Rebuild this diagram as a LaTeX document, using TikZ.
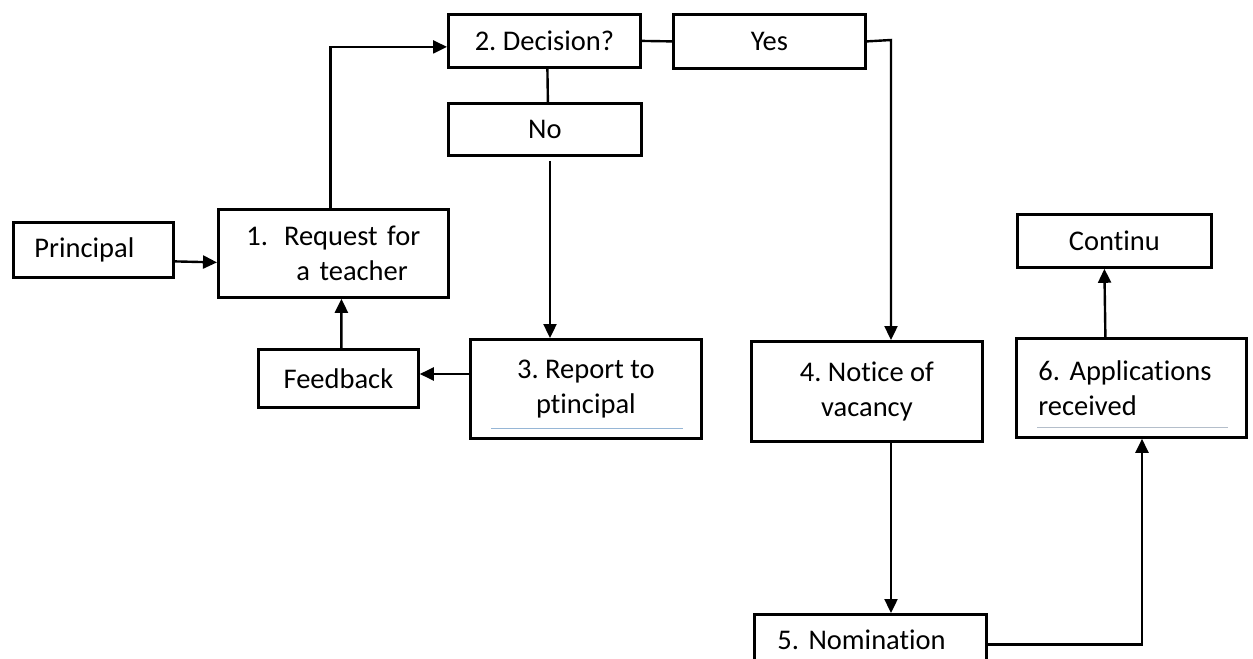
\documentclass[tikz,border=0pt]{standalone}
\usepackage{fontspec}
\setmainfont[Ligatures=NoCommon]{Carlito}
\usetikzlibrary{arrows.meta,calc}
\definecolor{uline}{RGB}{150,182,214}
\definecolor{gline}{RGB}{180,190,202}
\frenchspacing
\begin{document}
\begin{tikzpicture}[x=1bp,y=-1bp,
  box/.style={draw, line width=2.8bp, inner sep=0pt, anchor=north west,
    font=\fontsize{28.5bp}{35bp}\selectfont\frenchspacing},
  lbox/.style={box, align=left},
  cbox/.style={box, align=center},
  conn/.style={line width=2.4bp},
  arr/.style={conn, -{Triangle[length=14bp,width=13bp]}},
  uline/.style={line width=1bp}]
\useasboundingbox (0,0) rectangle (1253,659);

% boxes
\node[lbox, minimum height=55bp, text width=118bp, inner xsep=21bp] (pr) at (12,221) {Principal};
\node[lbox, minimum height=88bp, text width=174bp, inner xsep=28bp] (b1) at (217,208) {1.\hspace{16bp}Request for\\\hspace*{50bp}a teacher};
\node[cbox, minimum width=192bp, minimum height=53bp] (b2) at (447,13) {2. Decision?};
\node[cbox, minimum width=192bp, minimum height=54bp] (yes) at (672,13) {Yes};
\node[cbox, minimum width=193bp, minimum height=52bp] (no) at (447,102) {No};
\node[cbox, minimum width=160bp, minimum height=58bp] (fb) at (257,348) {Feedback};
\node[cbox, minimum width=231bp, minimum height=99bp] (b3) at (469,338) {3. Report to\\ptincipal};
\node[cbox, minimum width=231bp, minimum height=100bp] (b4) at (750,340) {4. Notice of\\vacancy};
\node[lbox, minimum height=99bp, text width=186bp, inner xsep=22bp] (b6) at (1015,337) {6. Applications\\received};
\node[cbox, minimum width=194bp, minimum height=53bp] (cont) at (1016,213) {Continu};
\node[lbox, minimum height=50bp, text width=186bp, inner xsep=23bp] (b5) at (753,613) {5. Nomination};

% underline marks inside boxes
\draw[uline, color=uline] ($(b3.south west)+(22,-11)$) -- ($(b3.south east)+(-20,-11)$);
\draw[uline, color=gline] ($(b6.south west)+(22,-11)$) -- ($(b6.south east)+(-20,-11)$);

% connectors
\coordinate (yc) at (891,40);
\coordinate (ng) at (550,161);
\coordinate (fy) at (0,374);
\coordinate (r6) at (1142,0);

\draw[arr] ($(pr.east)+(0,11.5)$) -- ($(b1.west)+(0,9)$);
\draw[arr] ($(b1.north)+(-3,0)$) |- ($(b2.west)+(0,6)$);
\draw[conn] (b2.east) -- (yes.west);
\draw[arr] (yes.east) -- (yc) -- (yc |- b4.north);
\draw[conn] ($(b2.south)+(3,0)$) -- ($(no.north)+(3,0)$);
\draw[arr] (ng) -- (ng |- b3.north);
\draw[arr] (b3.west |- fy) -- (fb.east |- fy);
\draw[arr] ($(fb.north)+(3,0)$) -- ($(b1.south)+(8,0)$);
\draw[arr] (b4.south -| yc) -- (b5.north -| yc);
\draw[arr] ($(b5.east)+(0,5)$) -- ($(b5.east -| r6)+(0,5)$) -- (r6 |- b6.south);
\draw[arr] ($(b6.north)+(-26,0)$) -- ($(cont.south)+(-10,0)$);
\end{tikzpicture}
\end{document}
